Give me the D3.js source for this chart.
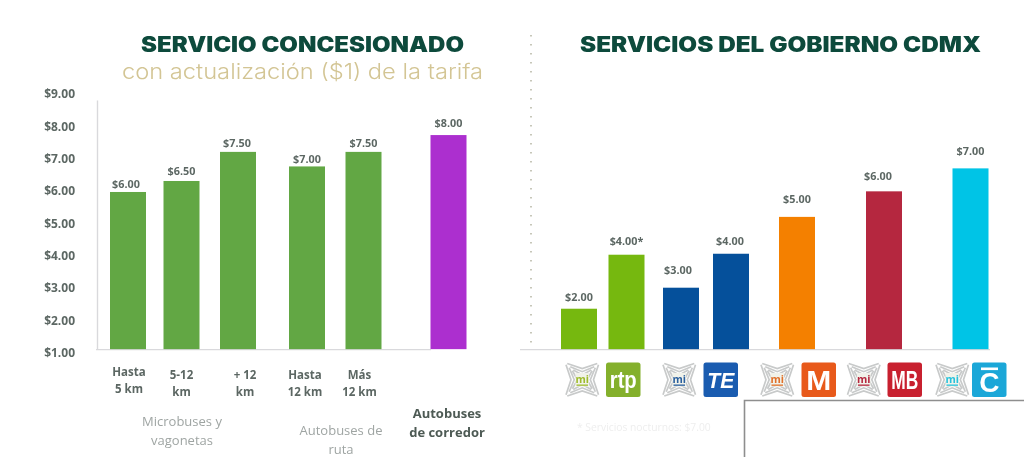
<!DOCTYPE html>
<html><head><meta charset="utf-8">
<script src="https://cdn.jsdelivr.net/npm/d3@7"></script>
<style>
html,body{margin:0;padding:0;background:#fff;overflow:hidden}
svg{display:block;filter:blur(.4px)}
text{font-family:"Open Sans",sans-serif}
</style></head><body><svg id="c" width="1024" height="457"></svg>
<script>
// ---- data ----
const tickValues = [1,2,3,4,5,6,7,8,9];
const leftCategories = ["Hasta|5 km","5-12|km","+ 12|km","Hasta|12 km","Más|12 km","corredor"];
const leftLabels = ["$6.00","$6.50","$7.50","$7.00","$7.50","$8.00"];
const leftHeights = [5.97,6.31,7.21,6.76,7.21,7.73];
const rightCategories = ["a","b","c","d","e","f","g"];
const rightLabels = ["$2.00","$4.00*","$3.00","$4.00","$5.00","$6.00","$7.00"];
const rightHeights = [2.36,4.03,3.01,4.06,5.20,5.99,6.70];
const leftColors = ["#62a744","#62a744","#62a744","#62a744","#62a744","#ac2fcf"];
const rightColors = ["#76b80f","#76b80f","#05509b","#05509b","#f48000","#b5273f","#00c4e6"];
const iconNames = ["rtp","TE","M","MB","C"];
const iconColors = ["#84b02c","#1a5cb0","#e8591a","#c8202f","#1ba7d8"];
const miColors = ["#9dbb2c","#2a5f9e","#e0702a","#b5273f","#27c2dc"];
const groupLabels = [["Microbuses y","vagonetas"],["Autobuses de","ruta"]];

// ---- layout ----
const svg = d3.select("#c");
const y = d3.scaleLinear().domain([1,9]).range([352.7,94]);
const base = 1.11, barW = 36;
const xL = d3.scaleOrdinal(leftCategories,[128,181.5,238,307,363.5,448.5]);
const xR = d3.scaleOrdinal(rightCategories,[579,626.5,681,731,797,884,970.5]);
const gapL = [8,10,9,7.5,9,12], gapR = [12,14,18,13,18,15.5,17.5];
const labelDxL = [-2,0,-1,0,0,0], labelDxR = [0,0,-3,-1,0,-6,0];
const grey = "#d9d9dc", ink = "#5c6763";

// frame lower right
svg.append("path").attr("d","M744.5,457V400.5H1024").attr("fill","none").attr("stroke","#8e8e8e").attr("stroke-width",1.6);

// titles
const title = (t,x0,w,yy)=>svg.append("text").text(t).attr("x",x0).attr("y",yy)
  .attr("textLength",w).attr("lengthAdjust","spacingAndGlyphs")
  .attr("font-size",21).attr("font-weight",900).attr("fill","#0d4a3c").style("font-family","Inter,sans-serif");
title("SERVICIO CONCESIONADO",141,323,51.5);
title("SERVICIOS DEL GOBIERNO CDMX",580,401,52);
svg.append("text").text("con actualización ($1) de la tarifa").attr("x",122).attr("y",79)
  .attr("textLength",361).attr("lengthAdjust","spacingAndGlyphs")
  .attr("font-size",21).attr("font-weight",300).attr("fill","#d3c594").style("font-family","Inter,sans-serif");

// divider
svg.append("line").attr("x1",531).attr("x2",531).attr("y1",35).attr("y2",350)
  .attr("stroke","#b9b9a8").attr("stroke-width",1.6).attr("stroke-dasharray","1.6 7.4");

// axis
const ax = svg.append("g").attr("transform","translate(97,0)")
  .call(d3.axisLeft(y).tickValues(tickValues).tickSize(0).tickPadding(22).tickFormat(d=>"$"+d3.format(".2f")(d)));
ax.select(".domain").remove();
ax.selectAll("text").attr("font-size",12).attr("font-weight",700).attr("fill",ink).style("font-family",'"Open Sans",sans-serif');
svg.append("line").attr("x1",97.5).attr("x2",97.5).attr("y1",y(8.8)).attr("y2",y(base)+.5).attr("stroke",grey).attr("stroke-width",1.4);
svg.append("line").attr("x1",96).attr("x2",431).attr("y1",y(base)+.5).attr("y2",y(base)+.5).attr("stroke",grey).attr("stroke-width",1.2);
svg.append("line").attr("x1",520).attr("x2",990).attr("y1",y(base)+.5).attr("y2",y(base)+.5).attr("stroke",grey).attr("stroke-width",1.2);

// bars
function bars(cats,vals,cols,labs,x,gap,dx){
  const g = svg.append("g");
  g.selectAll("rect").data(cats).join("rect")
    .attr("x",d=>x(d)-barW/2).attr("width",barW)
    .attr("y",(d,i)=>y(vals[i])).attr("height",(d,i)=>y(base)-y(vals[i]))
    .attr("fill",(d,i)=>cols[i]);
  g.selectAll("text").data(cats).join("text")
    .text((d,i)=>labs[i]).attr("text-anchor","middle")
    .attr("x",(d,i)=>x(d)+dx[i]).attr("y",(d,i)=>y(vals[i])-gap[i]+3.8)
    .attr("font-size",10.8).attr("font-weight",700).attr("fill",ink);
}
bars(leftCategories,leftHeights,leftColors,leftLabels,xL,gapL,labelDxL);
bars(rightCategories,rightHeights,rightColors,rightLabels,xR,gapR,labelDxR);

// category labels
const catShift = [1,0,7,-2,-4,0], catY = [376,379,379,379,379];
leftCategories.slice(0,5).forEach((c,i)=>{
  c.split("|").forEach((s,j)=>svg.append("text").text(s).attr("text-anchor","middle")
    .attr("x",xL(c)+catShift[i]).attr("y",catY[i]+j*16.5)
    .attr("font-size",11.5).attr("font-weight",700).attr("fill",ink));
});
[[182,426],[341,435]].forEach(([cx,cy],i)=>groupLabels[i].forEach((s,j)=>
  svg.append("text").text(s).attr("text-anchor","middle").attr("x",cx).attr("y",cy+j*18.5)
    .attr("font-size",13).attr("fill","#9fa5a3")));
["Autobuses","de corredor"].forEach((s,j)=>svg.append("text").text(s).attr("text-anchor","middle")
  .attr("x",447).attr("y",418+j*18.5).attr("font-size",13).attr("font-weight",700).attr("fill","#4d5a54"));

// footnote
svg.append("text").text("* Servicios nocturnos: $7.00").attr("x",577).attr("y",431)
  .attr("font-size",10.3).attr("fill","#eeeeee");

// icons
const miX = d3.scaleOrdinal(iconNames,[565,662,760,846.5,935]);
const icX = d3.scaleOrdinal(iconNames,[606,703.5,801.5,887.5,972]);
const S = 34.5, T = 362.5;
iconNames.forEach((n,i)=>{
  const g = svg.append("g").attr("transform",`translate(${miX(n)},${T})`);
  // nested chevrons on the four sides, pointing at the centre
  [0,90,180,270].forEach(a=>{
    const p = d3.path();
    [0,1,2].forEach(k=>{
      const top = 1+k*3.2, w = 15-k*3;
      p.moveTo(S/2-w,top); p.lineTo(S/2,top+5); p.lineTo(S/2+w,top);
    });
    g.append("path").attr("d",p.toString()).attr("fill","none").attr("stroke","#c8caca").attr("stroke-width",1.7)
      .attr("transform",`rotate(${a} ${S/2} ${S/2})`);
  });
  g.append("rect").attr("x",10.5).attr("y",10.5).attr("width",S-21).attr("height",S-21).attr("fill","#f1f2ea");
  g.append("text").text("mi").attr("x",S/2).attr("y",20.5).attr("text-anchor","middle")
    .attr("font-size",10.5).attr("font-weight",700).attr("fill",miColors[i]);
  g.append("rect").attr("x",11.5).attr("y",22).attr("width",S-23).attr("height",1.3).attr("fill",miColors[i]);

  const h = svg.append("g").attr("transform",`translate(${icX(n)},${T})`);
  h.append("rect").attr("width",S).attr("height",S).attr("rx",2.5).attr("fill",iconColors[i]);
  const t = h.append("text").text(n).attr("x",S/2).attr("y",S/2+8.5).attr("text-anchor","middle")
    .attr("font-weight",700).attr("fill","#fff").style("font-family",'"Liberation Sans",sans-serif');
  if(n==="rtp") t.attr("font-size",24).attr("textLength",27).attr("lengthAdjust","spacingAndGlyphs");
  if(n==="TE") t.attr("font-size",22).attr("font-style","italic").attr("textLength",27).attr("lengthAdjust","spacingAndGlyphs");
  if(n==="M") t.attr("font-size",28).attr("y",S/2+10).attr("textLength",25).attr("lengthAdjust","spacingAndGlyphs");
  if(n==="MB") t.attr("font-size",26).attr("y",S/2+9.5).attr("textLength",27).attr("lengthAdjust","spacingAndGlyphs");
  if(n==="C"){ t.attr("font-size",28).attr("y",S/2+12);
    h.append("rect").attr("x",9).attr("y",5).attr("width",17).attr("height",2.6).attr("fill","#fff"); }
});
</script></body></html>
